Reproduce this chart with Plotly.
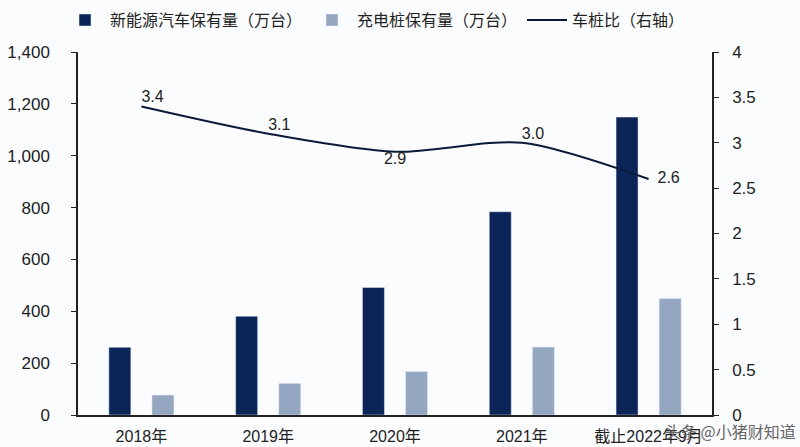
import plotly.graph_objects as go

categories = ["2018年", "2019年", "2020年", "2021年", "截止2022年9月"]
nev_stock = [261, 381, 492, 784, 1149]
pile_stock = [77, 122, 168, 262, 449]
ratio = [3.4, 3.1, 2.9, 3.0, 2.6]
ratio_labels = ["3.4", "3.1", "2.9", "3.0", "  2.6"]

font_family = "Liberation Sans, Arial, Noto Sans CJK SC"

fig = go.Figure()
fig.add_trace(go.Bar(x=categories, y=nev_stock, name="新能源汽车保有量（万台）",
                     marker_color="#0b2559"))
fig.add_trace(go.Bar(x=categories, y=pile_stock, name="充电桩保有量（万台）",
                     marker_color="#94a6c0"))
fig.add_trace(go.Scatter(x=categories, y=ratio, name="车桩比（右轴）", yaxis="y2",
                         mode="lines+text", text=ratio_labels,
                         textposition=["top right", "top right", "bottom center", "top right", "middle right"],
                         textfont=dict(size=16, color="#222"),
                         line=dict(color="#0b1a3a", width=2, shape="spline", smoothing=0.8)))

fig.add_annotation(text="头条 @小猪财知道", xref="paper", yref="paper", x=1.135, y=-0.005,
                   xanchor="right", yanchor="top", showarrow=False,
                   font=dict(size=16, color="#666", family="Noto Sans CJK SC"))

fig.update_layout(
    width=800, height=447,
    margin=dict(l=78, r=88, t=52, b=32, autoexpand=False),
    paper_bgcolor="#fbfcfe", plot_bgcolor="#fbfcfe",
    font=dict(family=font_family, size=15, color="#222"),
    barmode="group", bargap=0.32, bargroupgap=0.49,
    showlegend=True,
    legend=dict(orientation="h", x=0.075, y=0.955, xref="container", yref="container",
                xanchor="left", yanchor="middle",
                font=dict(size=16, family="Noto Sans CJK SC, Liberation Sans"),
                itemwidth=40, traceorder="normal"),
    xaxis=dict(showline=True, linecolor="#222", linewidth=1.5, ticks="",
               showgrid=False, tickfont=dict(size=16), ticklabelstandoff=6),
    yaxis=dict(range=[0, 1400], dtick=200, tickformat=",", showline=True,
               linecolor="#222", linewidth=1.5, ticks="outside", ticklen=5,
               tickcolor="#222", showgrid=False, zeroline=False,
               tickfont=dict(size=17), ticklabelstandoff=18),
    yaxis2=dict(range=[0, 4], dtick=0.5, overlaying="y", side="right",
                showline=True, linecolor="#222", linewidth=1.5, ticks="outside",
                ticklen=5, tickcolor="#222", showgrid=False, zeroline=False,
                tickfont=dict(size=17), ticklabelstandoff=10),
)

fig.write_html("out.html")
